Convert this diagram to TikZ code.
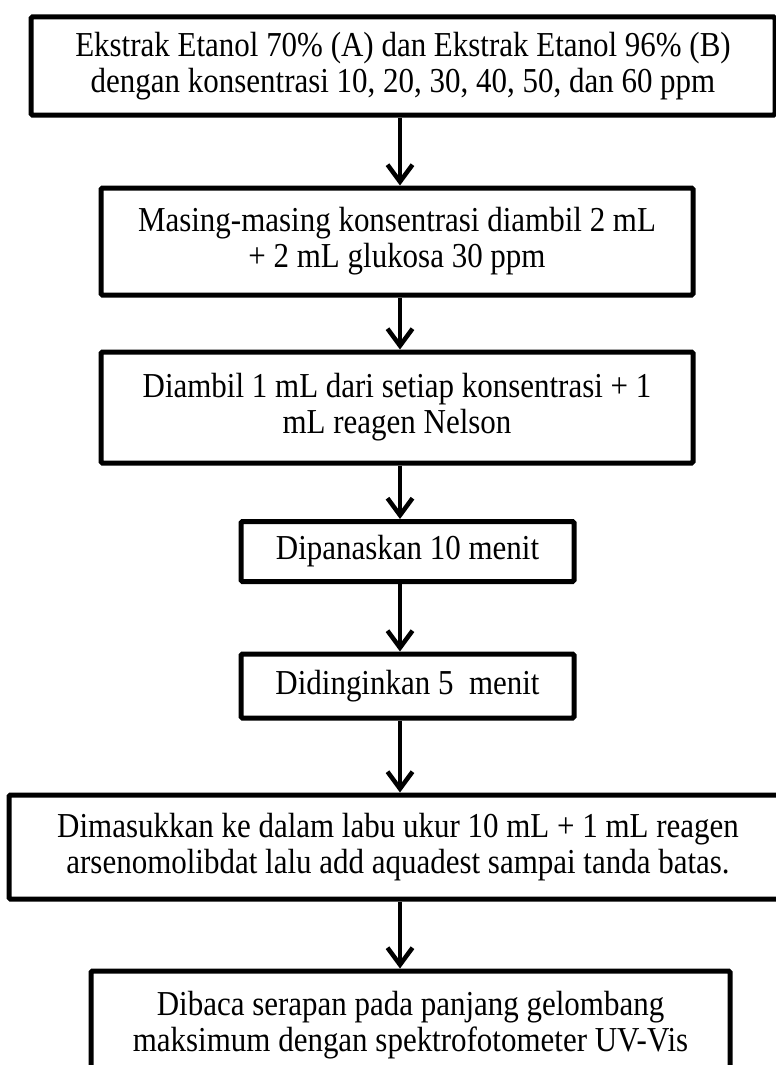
\documentclass[tikz,border=0pt]{standalone}
\usepackage{fontspec}
\setmainfont{Liberation Serif}[FakeStretch=0.885]
\usetikzlibrary{arrows.meta}
\begin{document}
\begin{tikzpicture}[x=1pt,y=-1pt,
  stepbox/.style={draw=black, line width=5pt, rectangle, inner sep=0pt, rounded corners=1.5pt,
    align=center, font=\fontsize{35}{36}\selectfont},
  arr/.style={line width=4.5pt, -{Straight Barb[length=17pt,width=25pt,line width=4.5pt]}}]
\useasboundingbox (0,0) rectangle (776,1065);
\clip (0,0) rectangle (776,1065);
\node[stepbox, minimum width=744pt, minimum height=98pt] (b1) at (403,66)
  {Ekstrak Etanol 70\% (A) dan Ekstrak Etanol 96\% (B)\\dengan konsentrasi 10, 20, 30, 40, 50, dan 60 ppm};
\node[stepbox, minimum width=592pt, minimum height=107pt] (b2) at (397,241.5)
  {Masing-masing konsentrasi diambil 2 mL\\+ 2 mL glukosa 30 ppm};
\node[stepbox, minimum width=592pt, minimum height=111pt] (b3) at (397,407.5)
  {Diambil 1 mL dari setiap konsentrasi + 1\\mL reagen Nelson};
\node[stepbox, minimum width=333pt, minimum height=60pt] (b4) at (407.5,551.5)
  {Dipanaskan 10 menit};
\node[stepbox, minimum width=333pt, minimum height=64pt] (b5) at (407.5,686)
  {Didinginkan 5\ \ menit};
\node[stepbox, minimum width=778pt, minimum height=104pt] (b6) at (398,847)
  {Dimasukkan ke dalam labu ukur 10 mL + 1 mL reagen\\arsenomolibdat lalu add aquadest sampai tanda batas.};
\node[stepbox, minimum width=639pt, minimum height=108pt] (b7) at (410.5,1025)
  {Dibaca serapan pada panjang gelombang\\maksimum dengan spektrofotometer UV-Vis};
\coordinate (col) at (400,0);
\draw[arr] (b1.south -| col) -- (b2.north -| col);
\draw[arr] (b2.south -| col) -- (b3.north -| col);
\draw[arr] (b3.south -| col) -- (b4.north -| col);
\draw[arr] (b4.south -| col) -- (b5.north -| col);
\draw[arr] (b5.south -| col) -- (b6.north -| col);
\draw[arr] (b6.south -| col) -- (b7.north -| col);
\end{tikzpicture}
\end{document}
